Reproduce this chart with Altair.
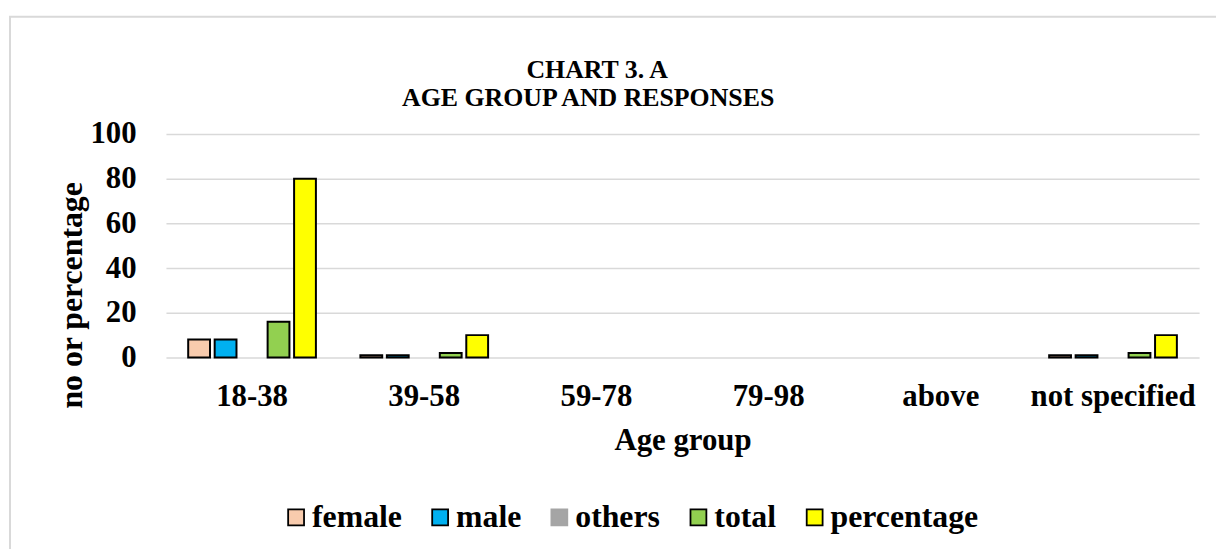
import altair as alt
import pandas as pd

groups = ["18-38", "39-58", "59-78", "79-98", "above", "not specified"]
series = ["female", "male", "others", "total", "percentage"]
female = [8, 1, 0, 0, 0, 1]
male = [8, 1, 0, 0, 0, 1]
others = [0, 0, 0, 0, 0, 0]
total = [16, 2, 0, 0, 0, 2]
percentage = [80, 10, 0, 0, 0, 10]
y_ticks = [0, 20, 40, 60, 80, 100]
title_lines = ["CHART 3. A", "AGE GROUP AND RESPONSES"]

fill_colors = ["#F8CBAD", "#00B0F0", "#A5A5A5", "#92D050", "#FFFF00"]
stroke_colors = ["#000000", "#000000", "#A5A5A5", "#000000", "#000000"]

rows = []
for name, vals in zip(series, [female, male, others, total, percentage]):
    for g, v in zip(groups, vals):
        rows.append({"group": g, "series": name, "value": v})
df = pd.DataFrame(rows)

FONT = "Liberation Serif"

frame = alt.Chart(pd.DataFrame({"a": [0]})).mark_rect(
    fill=None, stroke="#D9D9D9", strokeWidth=2
).encode(
    x=alt.value(-157), x2=alt.value(1200),
    y=alt.value(-118), y2=alt.value(600)
)

title1 = alt.Chart(pd.DataFrame({"t": [title_lines[0]]})).mark_text(
    font=FONT, fontSize=26, fontWeight="bold", color="black", align="center", baseline="alphabetic"
).encode(text="t:N", x=alt.value(434), y=alt.value(-56))

title2 = alt.Chart(pd.DataFrame({"t": [title_lines[1]]})).mark_text(
    font=FONT, fontSize=26, fontWeight="bold", color="black", align="center", baseline="alphabetic"
).encode(text="t:N", x=alt.value(425), y=alt.value(-28))

legend_cfg = dict(title=None, orient="none", direction="horizontal",
                  legendX=115, legendY=370, symbolType="square",
                  symbolSize=256, symbolStrokeWidth=1.8,
                  labelFont=FONT, labelFontSize=32, labelFontWeight="bold",
                  labelColor="black", labelOffset=0, columnPadding=22,
                  symbolOpacity=1)

bars = alt.Chart(df).transform_filter(
    alt.datum.value > 0
).mark_bar(strokeWidth=2).encode(
    x=alt.X("group:N", sort=groups, scale=alt.Scale(domain=groups, paddingInner=0, paddingOuter=0),
            axis=alt.Axis(title="Age group", labelAngle=0, labelFont=FONT, labelFontSize=31,
                          labelFontWeight="bold", labelColor="black", labelPadding=24,
                          titleFont=FONT, titleFontSize=31, titleFontWeight="bold",
                          titleColor="black", titlePadding=15, domain=False, ticks=False)),
    xOffset=alt.XOffset("series:N", sort=series,
                        scale=alt.Scale(domain=series, paddingInner=0.176, paddingOuter=0.84)),
    y=alt.Y("value:Q", scale=alt.Scale(domain=[0, 100]),
            axis=alt.Axis(values=y_ticks, title="no or percentage", labelFont=FONT,
                          labelFontSize=31, labelFontWeight="bold", labelColor="black",
                          labelPadding=30, titleFont=FONT, titleFontSize=32,
                          titleFontWeight="bold", titleColor="black",
                          titleX=-95, titleY=162, titleAngle=-90, titleBaseline="middle",
                          titleAlign="center",
                          domain=False, ticks=False, grid=True, gridColor="#D9D9D9",
                          gridWidth=1.5)),
    fill=alt.Fill("series:N", sort=series,
                  scale=alt.Scale(domain=series, range=fill_colors),
                  legend=alt.Legend(**legend_cfg)),
    stroke=alt.Stroke("series:N", sort=series,
                      scale=alt.Scale(domain=series, range=stroke_colors),
                      legend=alt.Legend(**legend_cfg)),
)

chart = alt.layer(frame, title1, title2, bars).properties(
    width=1040, height=225,
    autosize=alt.AutoSizeParams(type="none"),
    padding={"left": 159, "top": 125, "right": 17, "bottom": 191},
    background="white",
).configure_view(stroke=None)

chart.save("out.html", embed_options={"renderer": "svg", "actions": False})
